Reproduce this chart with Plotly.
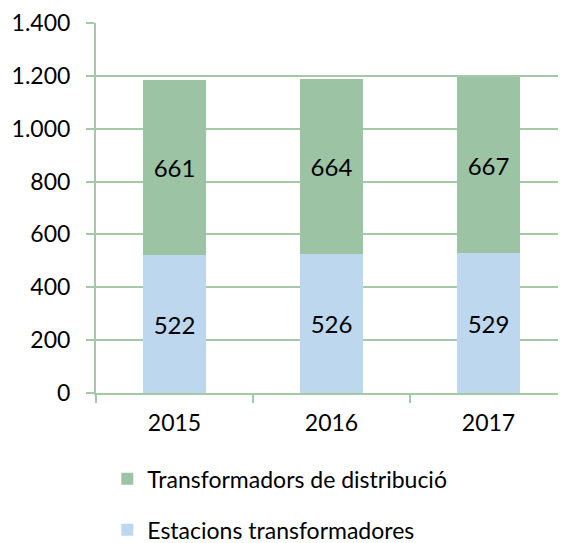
import plotly.graph_objects as go

years = ["2015", "2016", "2017"]
estacions = [522, 526, 529]
distribucio = [661, 664, 667]
y_ticks = [0, 200, 400, 600, 800, 1000, 1200, 1400]

name_est = "Estacions transformadores"
name_dis = "Transformadors de distribució"

blue = "#BDD7EE"
green = "#9DC3A5"
axis_col = "#A3C9A8"
font_fam = "Lato, Open Sans, sans-serif"

fig = go.Figure()
fig.add_trace(go.Bar(
    x=years, y=estacions, name=name_est, marker=dict(color=blue, line=dict(width=0)),
    text=estacions, textposition="inside", insidetextanchor="middle", textangle=0,
    textfont=dict(size=24, color="black", family=font_fam), constraintext="none",
    legendgroup="b", legendrank=2, width=0.4,
))
fig.add_trace(go.Bar(
    x=years, y=distribucio, name=name_dis, marker=dict(color=green, line=dict(width=0)),
    text=distribucio, textposition="inside", insidetextanchor="middle", textangle=0,
    textfont=dict(size=24, color="black", family=font_fam), constraintext="none",
    legendgroup="a", legendrank=1, width=0.4,
))

fig.update_layout(
    width=566, height=560,
    barmode="stack",
    separators=",.",
    plot_bgcolor="white", paper_bgcolor="white",
    margin=dict(l=88, r=7, t=15, b=175, autoexpand=False),
    font=dict(family=font_fam, size=23, color="black"),
    legend=dict(
        orientation="v", traceorder="grouped", tracegroupgap=18,
        x=0.024, xanchor="left", y=-0.428, yanchor="bottom",
        font=dict(size=23, family=font_fam),
        itemclick=False,
    ),
    xaxis=dict(
        showline=True, linecolor=axis_col, linewidth=2,
        ticks="outside", tickson="boundaries", ticklen=8, tickcolor=axis_col, tickwidth=2,
        tickfont=dict(size=23), showgrid=False, ticklabelstandoff=8, automargin=False,
    ),
    yaxis=dict(
        range=[0, 1400], tickvals=y_ticks, tickformat=",d",
        showline=True, linecolor=axis_col, linewidth=2,
        ticks="outside", ticklen=8, tickcolor=axis_col, tickwidth=2,
        gridcolor=axis_col, gridwidth=2, tickfont=dict(size=23),
        zeroline=False, ticklabelstandoff=11, automargin=False,
    ),
)

fig.write_html("out.html")
